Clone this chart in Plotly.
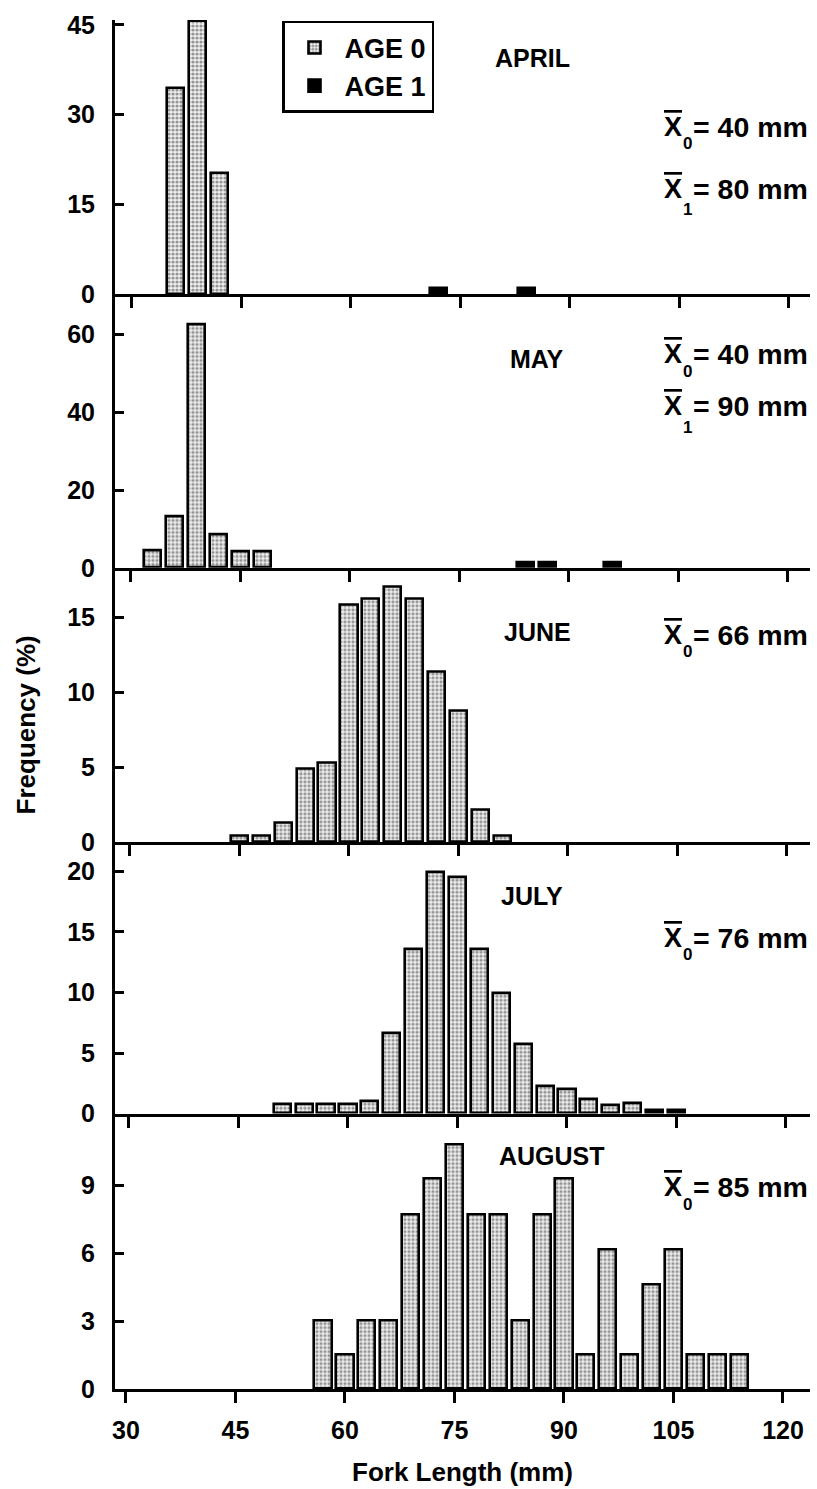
import plotly.graph_objects as go

# ---------------- data (fork length bin centres, mm ; frequency %) ----------------
april_x0 = [36, 39, 42]
april_y0 = [34.5, 45.6, 20.3]
april_x1 = [72, 84]
april_y1 = [1.0, 1.0]

may_x0 = [33, 36, 39, 42, 45, 48]
may_y0 = [4.5, 13.2, 62.6, 8.5, 4.3, 4.3]
may_x1 = [84, 87, 96]
may_y1 = [1.3, 1.3, 1.3]

june_x0 = [45, 48, 51, 54, 57, 60, 63, 66, 69, 72, 75, 78, 81]
june_y0 = [0.4, 0.4, 1.3, 4.9, 5.3, 15.8, 16.2, 17.0, 16.2, 11.35, 8.75, 2.15, 0.4]

july_x0 = [51, 54, 57, 60, 63, 66, 69, 72, 75, 78, 81, 84, 87, 90, 93, 96, 99]
july_y0 = [0.8, 0.8, 0.8, 0.8, 1.0, 6.6, 13.6, 19.9, 19.5, 13.6, 9.9, 5.75, 2.3, 2.0, 1.2, 0.7, 0.9]
july_x1 = [102, 105]
july_y1 = [0.25, 0.25]

aug_x0 = [57, 60, 63, 66, 69, 72, 75, 78, 81, 84, 87, 90, 93, 96, 99, 102, 105, 108, 111, 114]
aug_y0 = [3.0, 1.5, 3.0, 3.0, 7.7, 9.3, 10.8, 7.7, 7.7, 3.0, 7.7, 9.3, 1.5, 6.15, 1.5, 4.6, 6.15, 1.5, 1.5, 1.5]

months = ["APRIL", "MAY", "JUNE", "JULY", "AUGUST"]
y_ticks = [[0, 15, 30, 45], [0, 20, 40, 60], [0, 5, 10, 15], [0, 5, 10, 15, 20], [0, 3, 6, 9]]
y_tops = [45.8, 70.3, 18.3, 22.4, 12.15]
x_ticks = [30, 45, 60, 75, 90, 105, 120]
mean_labels = [[["0", "40"], ["1", "80"]], [["0", "40"], ["1", "90"]], [["0", "66"]], [["0", "76"]], [["0", "85"]]]

age0 = [(april_x0, april_y0), (may_x0, may_y0), (june_x0, june_y0), (july_x0, july_y0), (aug_x0, aug_y0)]
age1 = [(april_x1, april_y1), (may_x1, may_y1), None, (july_x1, july_y1), None]

# ---------------- layout geometry (pixels) ----------------
W, H = 817, 1489
L, R, T, B = 115, 7, 20, 97
PW, PH = W - L - R, H - T - B
bounds = [20, 295, 569, 844, 1116, 1392]  # panel top/bottom edges in px
panel_shift_px = [6, 5, 4, 3, 0]          # slight horizontal drift of each panel in the original
PX_PER_MM = PW / (123.7 - 28.5)


def py(p):
    return (T + PH - p) / PH


def pxx(p):
    return (p - L) / PW


FONT = "Liberation Sans, Arial, Helvetica, sans-serif"
BOLD = dict(family=FONT, color="black", weight="bold")
BAR_W = 2.35

fig = go.Figure()
for i in range(5):
    xa = "x" if i == 0 else f"x{i+1}"
    ya = "y" if i == 0 else f"y{i+1}"
    xs, ys = age0[i]
    fig.add_trace(go.Bar(
        x=xs, y=ys, width=BAR_W, xaxis=xa, yaxis=ya, name="AGE 0",
        showlegend=(i == 0), legendgroup="a0",
        marker=dict(color="#bdbdbd",
                    line=dict(color="black", width=2.6),
                    pattern=dict(shape=".", fgcolor="#3a3a3a", bgcolor="#eeeeee",
                                 size=4, solidity=0.5)),
        cliponaxis=False,
    ))
    if age1[i] is not None:
        xs1, ys1 = age1[i]
        fig.add_trace(go.Bar(
            x=xs1, y=ys1, width=BAR_W, xaxis=xa, yaxis=ya, name="AGE 1",
            showlegend=(i == 0), legendgroup="a1",
            marker=dict(color="black", line=dict(color="black", width=2.6)),
            cliponaxis=False,
        ))

layout = dict(
    width=W, height=H,
    margin=dict(l=L, r=R, t=T, b=B),
    paper_bgcolor="white", plot_bgcolor="white",
    barmode="overlay", bargap=0,
    font=dict(size=24, **BOLD),
    showlegend=True,
    legend=dict(x=pxx(282), y=py(21), xanchor="left", yanchor="top",
                bordercolor="black", borderwidth=2.5, bgcolor="white",
                font=dict(size=27, **BOLD),
                itemwidth=50, traceorder="normal", tracegroupgap=8),
)

for i in range(5):
    xk = "xaxis" if i == 0 else f"xaxis{i+1}"
    yk = "yaxis" if i == 0 else f"yaxis{i+1}"
    top, bot = bounds[i], bounds[i + 1]
    d = panel_shift_px[i] / PX_PER_MM
    xdict = dict(
        range=[28.5 - d, 123.7 - d], domain=[0, 1], anchor="y" if i == 0 else f"y{i+1}",
        showline=True, linecolor="black", linewidth=3,
        ticks="outside", ticklen=11, tickwidth=2.5, tickcolor="black",
        tickvals=x_ticks,
        showticklabels=(i == 4), showgrid=False, zeroline=False,
        tickfont=dict(size=25, **BOLD),
    )
    if i == 4:
        xdict["title"] = dict(text="Fork Length (mm)", font=dict(size=26, **BOLD), standoff=20)
        xdict["ticklabelstandoff"] = 6
    layout[xk] = xdict
    layout[yk] = dict(
        range=[0, y_tops[i]], domain=[py(bot), py(top)],
        anchor="x" if i == 0 else f"x{i+1}",
        showline=True, linecolor="black", linewidth=3,
        ticks="inside", ticklen=9, tickwidth=2.5, tickcolor="black",
        tickvals=y_ticks[i],
        showgrid=False, zeroline=False, ticklabelstandoff=12,
        tickfont=dict(size=25, **BOLD),
    )

fig.update_layout(**layout)

# month labels
month_pos = [(532, 58), (537, 360), (537, 633), (532, 898), (552, 1158)]
for m, (mx, my) in zip(months, month_pos):
    fig.add_annotation(text=m, xref="paper", yref="paper",
                       x=pxx(mx), y=py(my), xanchor="center", yanchor="middle",
                       showarrow=False, font=dict(size=25, **BOLD))

# mean labels: X-bar, dropped subscript, "= nn mm"
mean_pos = [[127, 189], [355, 407], [636], [940], [1190]]
for labs, ys in zip(mean_labels, mean_pos):
    for (sub, val), my in zip(labs, ys):
        fig.add_annotation(text="<span style='text-decoration:overline'>X</span>",
                           xref="paper", yref="paper", x=pxx(684), y=py(my),
                           xanchor="right", yanchor="middle", showarrow=False,
                           font=dict(size=27, **BOLD))
        sub_dy = 17 if sub == "0" else 21
        fig.add_annotation(text=sub, xref="paper", yref="paper",
                           x=pxx(687), y=py(my + sub_dy), xanchor="center", yanchor="middle",
                           showarrow=False, font=dict(size=17, **BOLD))
        fig.add_annotation(text=f"= {val} mm", xref="paper", yref="paper",
                           x=pxx(810), y=py(my), xanchor="right", yanchor="middle",
                           showarrow=False, font=dict(size=28.5, **BOLD))

# y-axis title
fig.add_annotation(text="Frequency (%)", xref="paper", yref="paper",
                   x=pxx(26), y=py(727), xanchor="center", yanchor="middle",
                   textangle=-90, showarrow=False, font=dict(size=26, **BOLD))

fig.write_html("out.html")
